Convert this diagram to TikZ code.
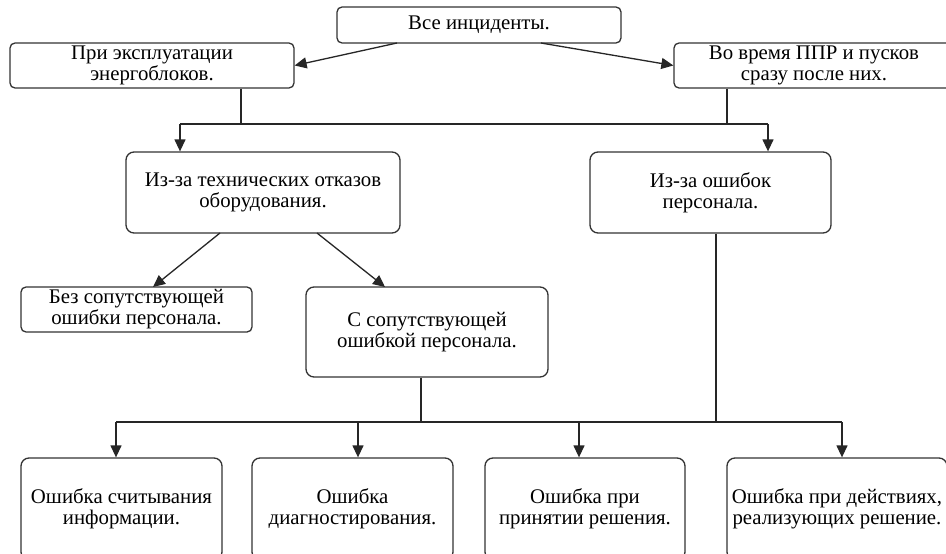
\documentclass[tikz,border=0pt]{standalone}
\usepackage{fontspec}
\setmainfont{Liberation Serif}
\usetikzlibrary{arrows.meta}
\begin{document}
\begin{tikzpicture}[x=1pt,y=-1pt,
  box/.style={draw=black!80, line width=1.3pt, rounded corners=5pt, align=center,
    inner sep=0pt, font=\fontsize{20.8}{21}\selectfont, fill=white},
  conn/.style={draw=black!85, line width=1.3pt},
  arr/.style={conn, -{Triangle[length=12pt,width=11pt]}}]
\useasboundingbox (0,0) rectangle (946,554);
\fill[white] (0,0) rectangle (946,554);
\begin{scope}
\clip (0,0) rectangle (946,554);
\node[box, minimum width=284, minimum height=36] (top) at (479,25) {Все инциденты.};
\node[box, minimum width=284, minimum height=45] (L1) at (152,65.5) {При эксплуатации\\энергоблоков.};
\node[box, minimum width=280, minimum height=45] (R1) at (814,65.5) {Во время ППР и пусков\\сразу после них.};
\node[box, rounded corners=8pt, minimum width=274, minimum height=81] (tech) at (263,192.5) {Из-за технических отказов\\оборудования.};
\node[box, rounded corners=8pt, minimum width=241, minimum height=81] (pers) at (710.5,192.5) {Из-за ошибок\\персонала.};
\node[box, minimum width=231, minimum height=45] (bez) at (136.5,309.5) {Без сопутствующей\\ошибки персонала.};
\node[box, rounded corners=8pt, minimum width=242, minimum height=90] (s) at (427,332) {С сопутствующей\\ошибкой персонала.};
\node[box, rounded corners=8pt, minimum width=201, minimum height=102] (b1) at (121.5,509) {Ошибка считывания\\информации.};
\node[box, rounded corners=8pt, minimum width=201, minimum height=102] (b2) at (352.5,509) {Ошибка\\диагностирования.};
\node[box, rounded corners=8pt, minimum width=200, minimum height=102] (b3) at (585,509) {Ошибка при\\принятии решения.};
\node[box, rounded corners=8pt, minimum width=220, minimum height=102] (b4) at (837,509) {Ошибка при действиях,\\реализующих решение.};

% top level arrows
\coordinate (t1) at (397,43);
\coordinate (t2) at (541,43);
\draw[arr] (t1) -- (L1.east);
\draw[arr] (t2) -- (R1.west);

% bus 1
\coordinate (j1) at (241,124);
\coordinate (j2) at (727,124);
\coordinate (a1) at (180,124);
\coordinate (a2) at (768,124);
\draw[conn] (L1.south -| j1) -- (j1);
\draw[conn] (R1.south -| j2) -- (j2);
\draw[conn] (a1) -- (a2);
\draw[arr] (a1) -- (a1 |- tech.north);
\draw[arr] (a2) -- (a2 |- pers.north);

% tech to sub
\coordinate (d1) at (220,233);
\coordinate (d2) at (317,233);
\coordinate (e1) at (153,287);
\coordinate (e2) at (385,287);
\draw[arr] (d1) -- (e1);
\draw[arr] (d2) -- (e2);

% bus 2
\coordinate (k1) at (421,422);
\coordinate (k2) at (716,422);
\coordinate (c1) at (116,422);
\coordinate (c2) at (358,422);
\coordinate (c3) at (579,422);
\coordinate (c4) at (842,422);
\draw[conn] (s.south -| k1) -- (k1);
\draw[conn] (pers.south -| k2) -- (k2);
\draw[conn] (c1) -- (c4);
\draw[arr] (c1) -- (c1 |- b1.north);
\draw[arr] (c2) -- (c2 |- b2.north);
\draw[arr] (c3) -- (c3 |- b3.north);
\draw[arr] (c4) -- (c4 |- b4.north);
\end{scope}
\end{tikzpicture}
\end{document}
